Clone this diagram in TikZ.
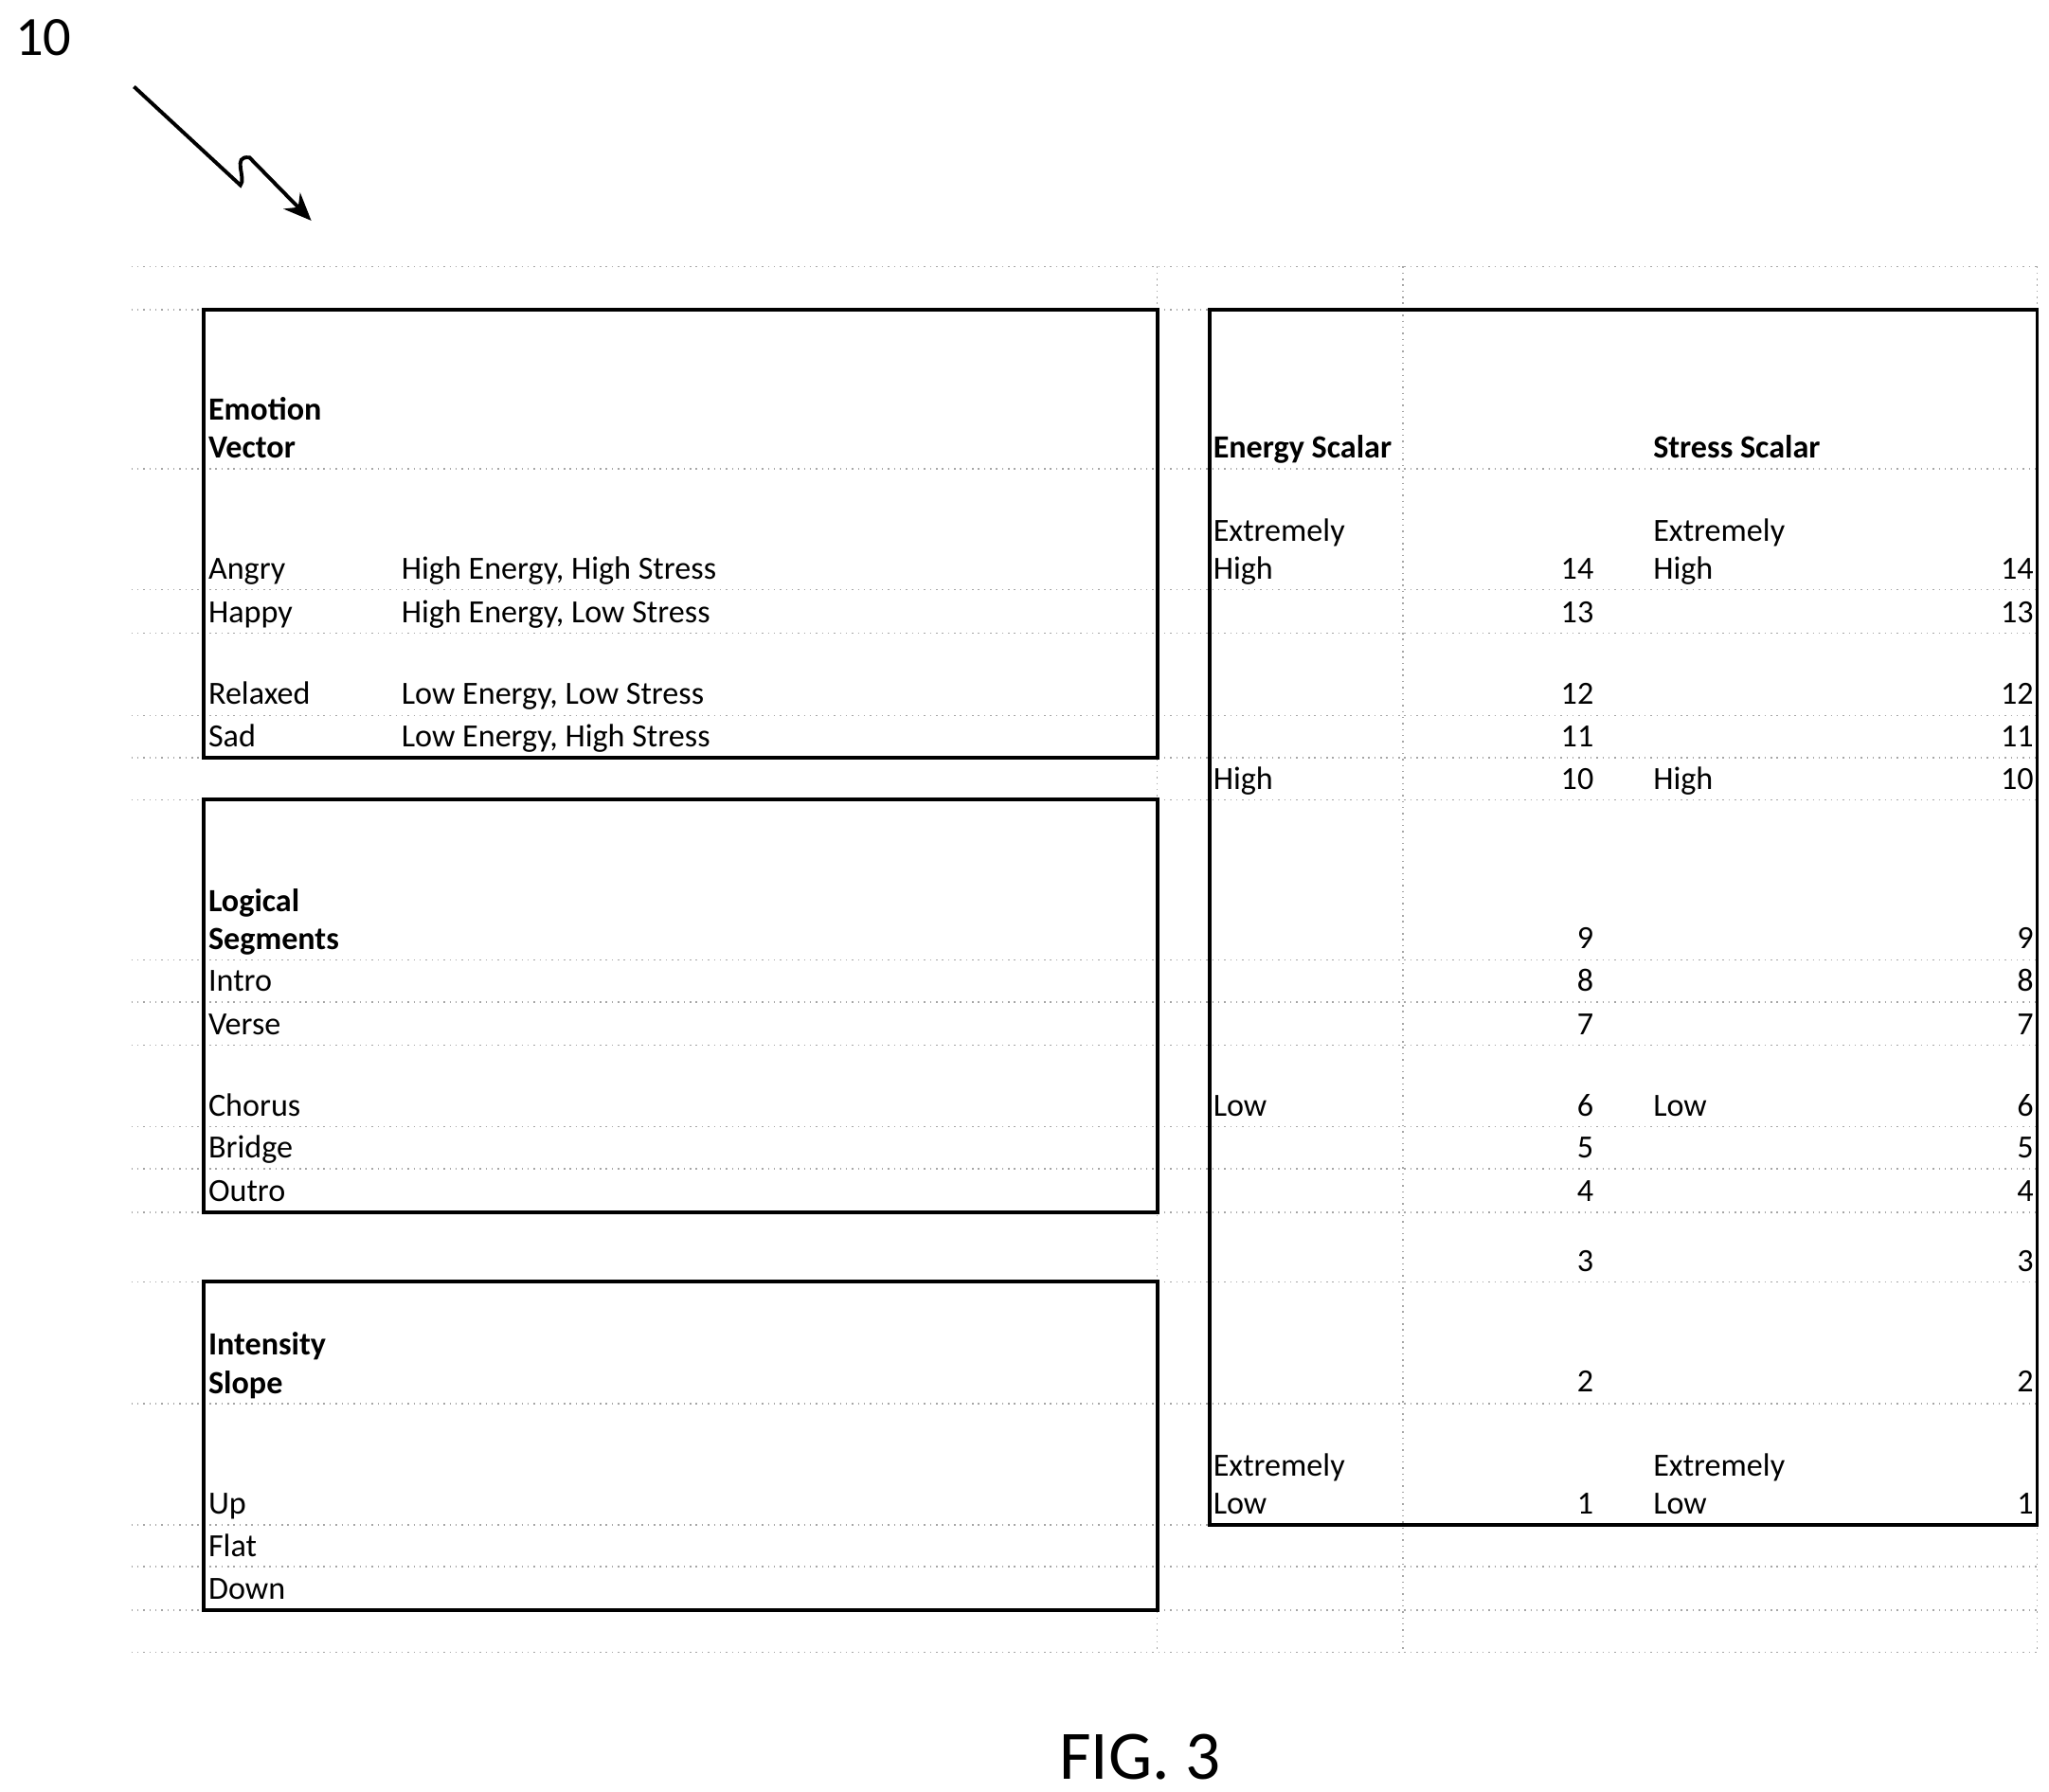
\documentclass[tikz,border=0pt]{standalone}
\usepackage{fontspec}
\setmainfont{Carlito}
\usetikzlibrary{arrows.meta}
\tikzset{
  cell/.style={anchor=base west,inner sep=0pt,font=\fontsize{7}{8}\selectfont},
  num/.style={anchor=base east,inner sep=0pt,font=\fontsize{7}{8}\selectfont},
  head/.style={cell,font=\fontsize{7}{8}\selectfont\bfseries},
  grid/.style={gray!70,densely dotted,line width=0.3pt},
  frame/.style={black,line width=0.8pt}
}
\begin{document}
\begin{tikzpicture}[x=0.01cm,y=-0.01cm]
\useasboundingbox (0,0) rectangle (1560,1364);
% dotted sheet grid
\foreach \y in {203,236,357,449,482,545,577,609,731,763,796,858,890,923,976,1069,1161,1193,1226,1258}
  \draw[grid] (100,\y) -- (1551,\y);
\foreach \x in {881,1068,1551}
  \draw[grid] (\x,203) -- (\x,1258);
% frames
\draw[frame] (155,236) rectangle (881,577);
\draw[frame] (155,609) rectangle (881,923);
\draw[frame] (155,976) rectangle (881,1226);
\draw[frame] (921,236) rectangle (1551,1161);
% emotion vector
\node[head] (ev1) at (158,320) {Emotion};
\node[head] (ev2) at (158,349) {Vector};
\foreach \lbl/\desc/\y in {Angry/{High Energy, High Stress}/441,Happy/{High Energy, Low Stress}/474,Relaxed/{Low Energy, Low Stress}/536,Sad/{Low Energy, High Stress}/569} {
  \node[cell] (e-\lbl) at (158,\y) {\lbl};
  \node[cell] (d-\lbl) at (305,\y) {\desc};
}
% logical segments
\node[head] (ls1) at (158,694) {Logical};
\node[head] (ls2) at (158,723) {Segments};
\foreach \lbl/\y in {Intro/755,Verse/788,Chorus/850,Bridge/882,Outro/915}
  \node[cell] (s-\lbl) at (158,\y) {\lbl};
% intensity slope
\node[head] (is1) at (158,1032) {Intensity};
\node[head] (is2) at (158,1061) {Slope};
\foreach \lbl/\y in {Up/1153,Flat/1185,Down/1218}
  \node[cell] (i-\lbl) at (158,\y) {\lbl};
% scalars
\node[head] (es) at (923,349) {Energy Scalar};
\node[head] (ss) at (1258,349) {Stress Scalar};
\foreach \n/\y in {14/441,13/474,12/536,11/569,10/601,9/722,8/755,7/788,6/850,5/882,4/915,3/968,2/1060,1/1153} {
  \node[num] (en\n) at (1214,\y) {\n};
  \node[num] (sn\n) at (1549,\y) {\n};
}
\foreach \x/\k in {923/e,1258/s} {
  \node[cell] (\k xh1) at (\x,412) {Extremely};
  \node[cell] (\k xh2) at (\x,441) {High};
  \node[cell] (\k h) at (\x,601) {High};
  \node[cell] (\k l) at (\x,850) {Low};
  \node[cell] (\k xl1) at (\x,1124) {Extremely};
  \node[cell] (\k xl2) at (\x,1153) {Low};
}
% reference numeral and caption
\node[anchor=base west,inner sep=0pt,font=\fontsize{12}{14}\selectfont] (ref) at (11,42) {10};
\coordinate (zs) at (102,66);
\coordinate (ze) at (237,168);
\draw[line width=0.8pt,-{Stealth[length=6pt,width=5pt]}] (zs) -- (183,141)
  .. controls (188,136) and (176,118) .. (190,120) -- (ze);
\node[anchor=base,inner sep=0pt,font=\fontsize{15}{18}\selectfont] (fig) at (868,1355) {FIG. 3};
\end{tikzpicture}
\end{document}
